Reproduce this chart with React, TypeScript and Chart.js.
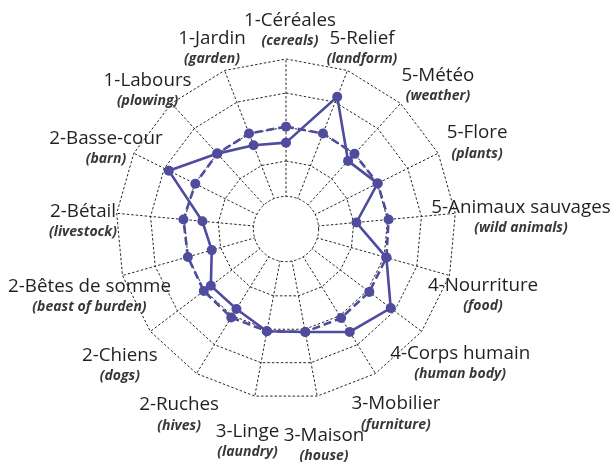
import React, { useEffect, useRef } from "react";
import { Chart, registerables } from "chart.js";

Chart.register(...registerables);

// Axis names (French) and their English glosses, clockwise from the top.
const CATEGORIES_FR = [
  "1-Céréales",
  "5-Relief",
  "5-Météo",
  "5-Flore",
  "5-Animaux sauvages",
  "4-Nourriture",
  "4-Corps humain",
  "3-Mobilier",
  "3-Maison",
  "3-Linge",
  "2-Ruches",
  "2-Chiens",
  "2-Bêtes de somme",
  "2-Bétail",
  "2-Basse-cour",
  "1-Labours",
  "1-Jardin",
];

const CATEGORIES_EN = [
  "(cereals)",
  "(landform)",
  "(weather)",
  "(plants)",
  "(wild animals)",
  "(food)",
  "(human body)",
  "(furniture)",
  "(house)",
  "(laundry)",
  "(hives)",
  "(dogs)",
  "(beast of burden)",
  "(livestock)",
  "(barn)",
  "(plowing)",
  "(garden)",
];

// Solid profile
const SERIES_SOLID = [
  2.54, 4.17, 2.71, 3.01, 2.08, 3.07, 3.86, 3.56, 3.08, 3.06, 2.77, 2.77, 2.27,
  2.47, 3.85, 3.0, 2.64,
];

// Dashed profile
const SERIES_DASHED = [
  3.01, 3.01, 2.99, 3.01, 3.03, 3.07, 3.07, 3.08, 3.08, 3.06, 3.06, 3.03, 3.0,
  3.03, 2.98, 3.0, 3.01,
];

// Radial scale: rings every unit, the innermost one replaced by the hub disc.
const SCALE_MIN = 0;
const SCALE_MAX = 5;
const SCALE_STEP = 1;
const HUB_RING = 1;
const HUB_VALUE = 0.96;

// Label block centre, relative to the end of each spoke (px).
const LABEL_OFFSETS: [number, number][] = [
  [4, -28.5],
  [14.6, -21.6],
  [37.4, -17.4],
  [38.9, -10.2],
  [65.7, 4.7],
  [33.5, 20.4],
  [38.5, 32.5],
  [20.4, 40.5],
  [6.8, 49.4],
  [-7.3, 45.4],
  [-17.4, 41.5],
  [-30.5, 34],
  [-33, 21.4],
  [-33.7, 8.7],
  [-27.9, -4.7],
  [-23.9, -12.9],
  [-12.6, -21.6],
];

const INK = "#4F4B9D";
const GRID = "#262626";
const GRID_DASH = [2.5, 2];
const FONT = '"Open Sans", "DejaVu Sans", sans-serif';

const hubDisc = {
  id: "hubDisc",
  beforeDatasetsDraw(chart: any) {
    const r = chart.scales.r;
    const ctx = chart.ctx as CanvasRenderingContext2D;
    const rad = r.getDistanceFromCenterForValue(HUB_VALUE);
    ctx.save();
    ctx.beginPath();
    ctx.arc(r.xCenter, r.yCenter, rad, 0, Math.PI * 2);
    ctx.fillStyle = "#ffffff";
    ctx.fill();
    ctx.setLineDash(GRID_DASH);
    ctx.lineWidth = 1;
    ctx.strokeStyle = GRID;
    ctx.stroke();
    ctx.restore();
  },
};

const twoLineLabels = {
  id: "twoLineLabels",
  afterDraw(chart: any) {
    const r = chart.scales.r;
    const ctx = chart.ctx as CanvasRenderingContext2D;
    ctx.save();
    ctx.textAlign = "center";
    ctx.textBaseline = "middle";
    CATEGORIES_FR.forEach((fr, i) => {
      const p = r.getPointPosition(i, r.drawingArea);
      const [dx, dy] = LABEL_OFFSETS[i];
      const cx = p.x + dx;
      const cy = p.y + dy;
      ctx.fillStyle = "#231F20";
      ctx.font = `18.8px ${FONT}`;
      ctx.fillText(fr, cx, cy - 10);
      ctx.fillStyle = "#383838";
      ctx.font = `italic bold 14px ${FONT}`;
      ctx.fillText(CATEGORIES_EN[i], cx, cy + 10.5);
    });
    ctx.restore();
  },
};

export default function App() {
  const canvasRef = useRef<HTMLCanvasElement | null>(null);

  useEffect(() => {
    if (!canvasRef.current) return;
    const chart = new Chart(canvasRef.current, {
      type: "radar",
      data: {
        labels: CATEGORIES_FR,
        datasets: [
          {
            label: "Profil",
            data: SERIES_SOLID,
            borderColor: INK,
            backgroundColor: INK,
            borderWidth: 2.6,
            pointRadius: 5,
            pointBackgroundColor: INK,
            pointBorderColor: INK,
            pointBorderWidth: 0,
            fill: false,
            tension: 0,
          },
          {
            label: "Moyenne",
            data: SERIES_DASHED,
            borderColor: INK,
            backgroundColor: INK,
            borderWidth: 2.6,
            borderDash: [8, 4],
            pointRadius: 5,
            pointBackgroundColor: INK,
            pointBorderColor: INK,
            pointBorderWidth: 0,
            fill: false,
            tension: 0,
          },
        ],
      },
      options: {
        responsive: false,
        animation: false,
        devicePixelRatio: 1,
        layout: { padding: { left: 116, right: 159, top: 59, bottom: 63 } },
        plugins: {
          legend: { display: false },
          tooltip: { enabled: false },
        },
        scales: {
          r: {
            min: SCALE_MIN,
            max: SCALE_MAX,
            ticks: { stepSize: SCALE_STEP, display: false },
            pointLabels: { display: false },
            grid: {
              color: (c: any) =>
                c.tick && c.tick.value === HUB_RING ? "rgba(0,0,0,0)" : GRID,
              lineWidth: 1,
            },
            border: { dash: GRID_DASH },
            angleLines: {
              color: GRID,
              lineWidth: 1,
              borderDash: GRID_DASH,
            },
          },
        },
      },
      plugins: [hubDisc, twoLineLabels],
    });
    return () => chart.destroy();
  }, []);

  return (
    <div
      style={{
        position: "fixed",
        left: 0,
        top: 0,
        width: 615,
        height: 462,
        background: "#ffffff",
      }}
    >
      <canvas ref={canvasRef} width={615} height={462} />
    </div>
  );
}
